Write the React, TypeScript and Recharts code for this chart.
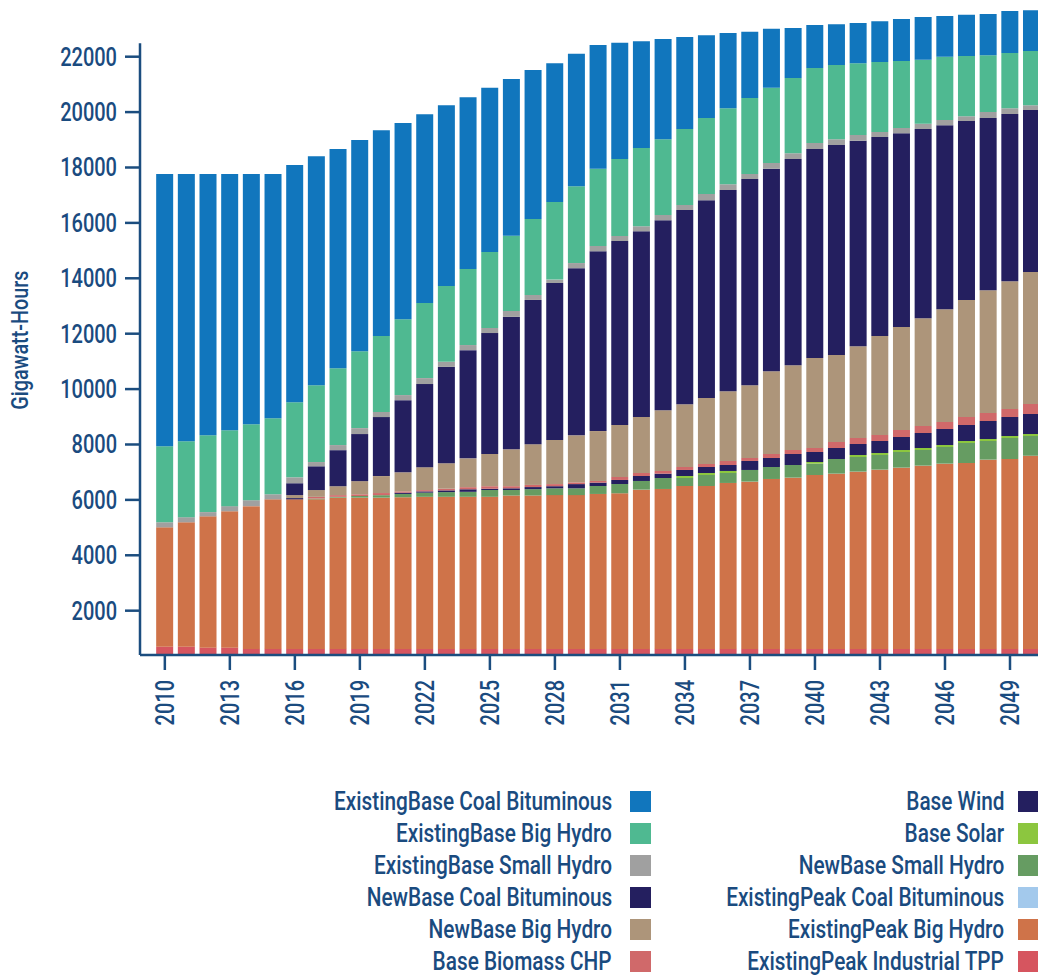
import React from 'react';
import { BarChart, Bar, XAxis, YAxis, Legend } from 'recharts';

const years = [
  '2010', '2011', '2012', '2013', '2014', '2015', '2016', '2017', '2018', '2019',
  '2020', '2021', '2022', '2023', '2024', '2025', '2026', '2027', '2028', '2029',
  '2030', '2031', '2032', '2033', '2034', '2035', '2036', '2037', '2038', '2039',
  '2040', '2041', '2042', '2043', '2044', '2045', '2046', '2047', '2048', '2049',
  '2050',
];

const existingPeakIndustrialTPP = [
  700, 700, 665, 665, 620, 620, 620, 620, 620, 620,
  620, 620, 620, 620, 620, 620, 620, 620, 620, 620,
  620, 620, 620, 620, 620, 620, 620, 620, 620, 620,
  620, 620, 620, 620, 620, 620, 620, 620, 620, 620,
  620,
];
const existingPeakBigHydro = [
  4308, 4492, 4741, 4925, 5154, 5399, 5399, 5399, 5460, 5460,
  5460, 5475, 5491, 5491, 5491, 5491, 5537, 5537, 5552, 5552,
  5594, 5618, 5750, 5774, 5882, 5882, 5991, 6039, 6135, 6183,
  6279, 6327, 6400, 6472, 6544, 6616, 6688, 6712, 6833, 6857,
  6977,
];
const existingPeakCoal = [
  0, 0, 0, 0, 0, 0, 0, 0, 0, 0,
  0, 0, 0, 0, 0, 0, 0, 0, 0, 0,
  0, 0, 0, 0, 0, 0, 0, 0, 0, 0,
  0, 0, 0, 0, 0, 0, 0, 0, 0, 0,
  0,
];
const newBaseSmallHydro = [
  0, 0, 0, 0, 0, 0, 0, 30, 30, 60,
  90, 120, 150, 170, 180, 245, 200, 230, 245, 245,
  288, 336, 313, 397, 289, 397, 360, 421, 433, 457,
  409, 530, 529, 529, 565, 565, 602, 722, 673, 758,
  710,
];
const baseSolar = [
  0, 0, 0, 0, 0, 0, 0, 0, 0, 0,
  0, 0, 0, 0, 0, 0, 0, 0, 0, 0,
  0, 0, 0, 0, 72, 72, 73, 0, 0, 0,
  60, 0, 72, 72, 72, 73, 72, 72, 73, 72,
  72,
];
const baseWind = [
  0, 0, 0, 0, 0, 0, 46, 0, 0, 0,
  0, 46, 46, 62, 92, 46, 61, 76, 77, 153,
  121, 145, 180, 156, 217, 217, 216, 325, 325, 397,
  361, 397, 397, 433, 470, 541, 577, 578, 649, 685,
  722,
];
const baseBiomassCHP = [
  0, 0, 0, 0, 0, 0, 0, 60, 62, 62,
  77, 46, 46, 61, 76, 92, 77, 77, 76, 62,
  60, 108, 108, 97, 108, 108, 145, 108, 144, 144,
  145, 216, 217, 217, 252, 253, 253, 288, 289, 289,
  361,
];
const newBaseBigHydro = [
  0, 0, 0, 0, 0, 0, 107, 246, 322, 475,
  613, 690, 827, 919, 1041, 1164, 1332, 1470, 1593, 1699,
  1802, 1872, 2019, 2192, 2262, 2383, 2519, 2626, 2988, 3058,
  3245, 3137, 3313, 3573, 3715, 3891, 4069, 4226, 4433, 4611,
  4767,
];
const newBaseCoal = [
  0, 0, 0, 0, 0, 0, 429, 858, 1301, 1700,
  2128, 2603, 3002, 3477, 3906, 4365, 4779, 5208, 5668, 6035,
  6494, 6648, 6709, 6861, 7015, 7138, 7261, 7444, 7306, 7444,
  7552, 7581, 7414, 7184, 7000, 6832, 6647, 6463, 6219, 6035,
  5851,
];
const existingBaseSmallHydro = [
  184, 183, 153, 184, 214, 184, 214, 153, 184, 214,
  184, 184, 215, 184, 184, 184, 215, 183, 122, 184,
  184, 184, 184, 184, 184, 230, 214, 184, 214, 215,
  214, 215, 214, 184, 184, 184, 184, 169, 214, 214,
  168,
];
const existingBaseBigHydro = [
  2742, 2742, 2773, 2741, 2742, 2742, 2711, 2772, 2773, 2773,
  2742, 2741, 2711, 2741, 2742, 2742, 2711, 2742, 2803, 2773,
  2788, 2772, 2818, 2742, 2742, 2742, 2742, 2742, 2711, 2711,
  2711, 2681, 2589, 2527, 2419, 2312, 2283, 2175, 2053, 1991,
  1961,
];
const existingBaseCoal = [
  9833, 9650, 9435, 9252, 9037, 8822, 8563, 8271, 7919, 7627,
  7429, 7077, 6816, 6525, 6203, 5927, 5667, 5377, 5009, 4779,
  4472, 4197, 3860, 3615, 3323, 2987, 2711, 2389, 2129, 1807,
  1547, 1470, 1455, 1470, 1517, 1547, 1470, 1486, 1486, 1517,
  1470,
];

const yTicks = [2000, 4000, 6000, 8000, 10000, 12000, 14000, 16000, 18000, 20000, 22000];

// stacking order, bottom to top
const series = [
  { key: 'tpp', name: 'ExistingPeak Industrial TPP', values: existingPeakIndustrialTPP },
  { key: 'peakHydro', name: 'ExistingPeak Big Hydro', values: existingPeakBigHydro },
  { key: 'peakCoal', name: 'ExistingPeak Coal Bituminous', values: existingPeakCoal },
  { key: 'nbSmallHydro', name: 'NewBase Small Hydro', values: newBaseSmallHydro },
  { key: 'solar', name: 'Base Solar', values: baseSolar },
  { key: 'wind', name: 'Base Wind', values: baseWind },
  { key: 'biomass', name: 'Base Biomass CHP', values: baseBiomassCHP },
  { key: 'nbBigHydro', name: 'NewBase Big Hydro', values: newBaseBigHydro },
  { key: 'nbCoal', name: 'NewBase Coal Bituminous', values: newBaseCoal },
  { key: 'ebSmallHydro', name: 'ExistingBase Small Hydro', values: existingBaseSmallHydro },
  { key: 'ebBigHydro', name: 'ExistingBase Big Hydro', values: existingBaseBigHydro },
  { key: 'ebCoal', name: 'ExistingBase Coal Bituminous', values: existingBaseCoal },
];

const colors: Record<string, string> = {
  tpp: '#d6555f',
  peakHydro: '#cf7349',
  peakCoal: '#a3c9ec',
  nbSmallHydro: '#669c62',
  solar: '#8cc63f',
  wind: '#241f5f',
  biomass: '#d0696a',
  nbBigHydro: '#ad957a',
  nbCoal: '#241f5f',
  ebSmallHydro: '#a0a0a0',
  ebBigHydro: '#4fb991',
  ebCoal: '#1176bd',
};

const data = years.map((year, i) => {
  const row: Record<string, string | number> = { year };
  series.forEach((s) => {
    row[s.key] = s.values[i];
  });
  return row;
});

const TEXT = '#1a4b7f';
const AXIS = '#1b4d7f';
const FONT = "Roboto, 'Liberation Sans', sans-serif";
const WEIGHT = 500;
const NUM_SX = 0.77;
const LEG_SX = 0.815;
const LABEL_SX = 0.86;

const legendOrder = [...series].reverse();
const legendLeft = legendOrder.slice(0, 6);
const legendRight = legendOrder.slice(6);

const XTick = (props: any) => {
  const { x, y, payload } = props;
  return (
    <text
      transform={`translate(${x},${y}) rotate(-90) scale(${NUM_SX},1)`}
      x={0}
      y={0}
      textAnchor="end"
      dominantBaseline="central"
      fill={TEXT}
      fontSize={26}
      fontWeight={WEIGHT}
      fontFamily={FONT}
    >
      {payload.value}
    </text>
  );
};

const YTick = (props: any) => {
  const { x, y, payload } = props;
  return (
    <text
      transform={`translate(${x},${y}) scale(${NUM_SX},1)`}
      x={0}
      y={0}
      textAnchor="end"
      dominantBaseline="central"
      fill={TEXT}
      fontSize={26}
      fontWeight={WEIGHT}
      fontFamily={FONT}
    >
      {payload.value}
    </text>
  );
};

const renderYLabel = (props: any) => {
  const vb = props.viewBox || { x: 0, y: 0, width: 140, height: 654 };
  const cx = vb.x + 20;
  const cy = vb.y + vb.height / 2 + 12;
  return (
    <text
      transform={`translate(${cx},${cy}) rotate(-90) scale(${LABEL_SX},1)`}
      x={0}
      y={0}
      textAnchor="middle"
      dominantBaseline="central"
      fill={TEXT}
      fontSize={23}
      fontWeight={WEIGHT}
      fontFamily={FONT}
    >
      Gigawatt-Hours
    </text>
  );
};

const legendTextStyle = (rightEdge: number, i: number): React.CSSProperties => ({
  position: 'absolute',
  right: 1038 - rightEdge,
  top: i * 32,
  lineHeight: '32px',
  whiteSpace: 'nowrap',
  display: 'inline-block',
  transform: `scaleX(${LEG_SX})`,
  transformOrigin: 'right center',
});

const renderLegend = () => (
  <div
    style={{
      position: 'relative',
      width: 1038,
      height: 192,
      fontFamily: FONT,
      fontSize: 25.5,
      fontWeight: WEIGHT,
      color: TEXT,
    }}
  >
    {legendLeft.map((s, i) => (
      <React.Fragment key={s.key}>
        <span style={legendTextStyle(612, i)}>{s.name}</span>
        <span style={{ position: 'absolute', left: 630, top: i * 32 + 5.5, width: 21, height: 21, background: colors[s.key] }} />
      </React.Fragment>
    ))}
    {legendRight.map((s, i) => (
      <React.Fragment key={s.key}>
        <span style={legendTextStyle(1004, i)}>{s.name}</span>
        <span style={{ position: 'absolute', left: 1018, top: i * 32 + 5.5, width: 21, height: 21, background: colors[s.key] }} />
      </React.Fragment>
    ))}
  </div>
);

export default function App() {
  return (
    <div style={{ position: 'absolute', left: 0, top: 0, width: 1038, height: 975, overflow: 'hidden', background: '#ffffff' }}>
      <BarChart
        width={1044}
        height={975}
        data={data}
        margin={{ top: 1.3, right: 1.5, bottom: 0, left: 0 }}
        barCategoryGap="10%"
      >
        <XAxis
          dataKey="year"
          height={320}
          padding={{ left: 14, right: 0 }}
          interval={2}
          tickSize={15}
          tickMargin={10}
          tick={<XTick />}
          axisLine={{ stroke: AXIS, strokeWidth: 2.5 }}
          tickLine={{ stroke: AXIS, strokeWidth: 2.5 }}
        />
        <YAxis
          width={140}
          domain={[400, 24000]}
          allowDataOverflow
          ticks={yTicks}
          interval={0}
          tickSize={15}
          tickMargin={8}
          tick={<YTick />}
          axisLine={{ stroke: AXIS, strokeWidth: 2.5, strokeDasharray: '0 42 1000' }}
          tickLine={{ stroke: AXIS, strokeWidth: 2.5 }}
          label={renderYLabel}
        />
        <Legend
          layout="vertical"
          align="center"
          verticalAlign="middle"
          wrapperStyle={{ top: 785, left: 0, width: 1038, height: 192 }}
          content={renderLegend}
        />
        {series.map((s) => (
          <Bar
            key={s.key}
            dataKey={s.key}
            name={s.name}
            stackId="a"
            fill={colors[s.key]}
            isAnimationActive={false}
          />
        ))}
      </BarChart>
    </div>
  );
}
